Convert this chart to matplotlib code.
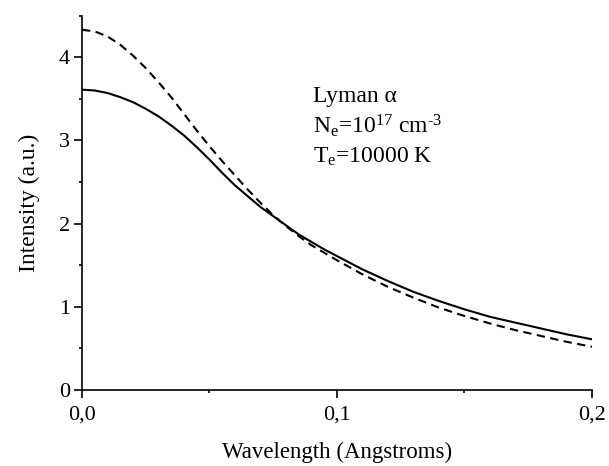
import numpy as np
import matplotlib
matplotlib.use("Agg")
import matplotlib.pyplot as plt
from matplotlib.ticker import MultipleLocator, FuncFormatter

plt.rcParams['font.family'] = ['Liberation Serif', 'DejaVu Serif']
plt.rcParams['mathtext.fontset'] = 'custom'
plt.rcParams['mathtext.rm'] = 'Liberation Serif'
plt.rcParams['mathtext.it'] = 'Liberation Serif:italic'

# wavelength grid (Angstroms) and the two profiles
wavelength = [0.000, 0.005, 0.010, 0.015, 0.020, 0.025, 0.030, 0.035,
              0.040, 0.045, 0.050, 0.055, 0.060, 0.065, 0.070, 0.075,
              0.080, 0.085, 0.090, 0.095, 0.100, 0.110, 0.120, 0.130,
              0.140, 0.150, 0.160, 0.170, 0.180, 0.190, 0.200]
solid_profile = [3.61, 3.60, 3.57, 3.52, 3.46, 3.38, 3.29, 3.18,
                 3.06, 2.92, 2.77, 2.61, 2.46, 2.33, 2.20, 2.09,
                 1.98, 1.87, 1.78, 1.69, 1.61, 1.45, 1.31, 1.18,
                 1.07, 0.97, 0.88, 0.81, 0.74, 0.67, 0.61]
dashed_profile = [4.33, 4.31, 4.25, 4.15, 4.02, 3.87, 3.70, 3.52,
                  3.32, 3.12, 2.93, 2.75, 2.58, 2.41, 2.25, 2.10,
                  1.97, 1.85, 1.74, 1.65, 1.56, 1.39, 1.24, 1.11,
                  0.99, 0.89, 0.80, 0.72, 0.65, 0.58, 0.52]

fig = plt.figure(figsize=(6.09, 4.66), dpi=100)
ax = fig.add_axes([0.1346, 0.163, 0.8374, 0.8035])

ax.plot(wavelength, solid_profile, color='black', lw=1.5)
ax.plot(wavelength, dashed_profile, color='black', lw=1.5, dashes=(4, 2.6))

ax.set_xlim(0, 0.2)
ax.set_ylim(0, 4.5)
ax.spines['top'].set_visible(False)
ax.spines['right'].set_visible(False)
for s in ('left', 'bottom'):
    ax.spines[s].set_linewidth(1.2)

ax.xaxis.set_major_locator(MultipleLocator(0.1))
ax.xaxis.set_minor_locator(MultipleLocator(0.05))
ax.yaxis.set_major_locator(MultipleLocator(1))
ax.yaxis.set_minor_locator(MultipleLocator(0.5))
ax.xaxis.set_major_formatter(FuncFormatter(lambda v, p: f"{v:.1f}".replace('.', ',')))
ax.yaxis.set_major_formatter(FuncFormatter(lambda v, p: f"{v:.0f}"))
ax.tick_params(which='major', direction='out', length=5.5, width=1.2, labelsize=16)
ax.tick_params(axis='x', which='major', pad=6)
ax.tick_params(axis='y', which='major', pad=3)
ax.tick_params(which='minor', direction='out', length=2.5, width=1.2)

ax.set_xlabel('Wavelength (Angstroms)', fontsize=16.5, labelpad=12)
ax.set_ylabel('Intensity (a.u.)', fontsize=17, labelpad=14)

fig.text(0.514, 0.781, 'Lyman α', fontsize=17, va='baseline')
fig.text(0.514, 0.715, r'N$_\mathrm{e}$=10$^{17}$ cm$^{\text{-3}}$', fontsize=17, va='baseline')
fig.text(0.514, 0.650, r'T$_\mathrm{e}$=10000 K', fontsize=17, va='baseline')

fig.savefig('out.png', dpi=100)
